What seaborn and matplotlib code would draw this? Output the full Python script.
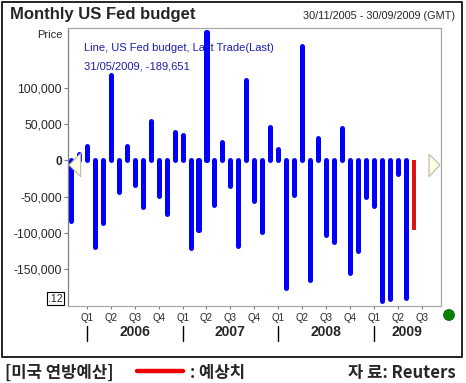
import numpy as np
import pandas as pd
import matplotlib
matplotlib.use('Agg')
import matplotlib.pyplot as plt
import seaborn as sns
from matplotlib.patches import Polygon, Rectangle, Ellipse
from matplotlib.lines import Line2D

# ---------------- data ----------------
months = pd.period_range('2005-11', '2009-05', freq='M').strftime('%Y-%m').tolist()
values = [-83500, 9000, 19500, -119500, -86500, 117500, -43500, 19500, -33500,
          -64500, 53500, -49500, -73500, 39500, 35500, -120500, -96500, 177000,
          -61000, 25500, -35500, -117500, 110500, -56500, -98500, 46500, 16000,
          -176500, -48000, 157500, -165500, 31000, -102500, -112500, 44000,
          -155500, -125500, -51000, -63500, -193500, -191500, -19500, -189651]
forecast_months = ['2009-06']
forecast_values = [-96000]
axis_start, axis_end = '2005-11', '2009-09'
quarter_labels = ['Q1', 'Q2', 'Q3', 'Q4', 'Q1', 'Q2', 'Q3', 'Q4',
                  'Q1', 'Q2', 'Q3', 'Q4', 'Q1', 'Q2', 'Q3']
year_labels = ['2006', '2007', '2008', '2009']
yticks = [-150000, -100000, -50000, 0, 50000, 100000]

# ---------------- style ----------------
sns.set_style('white')
plt.rcParams['font.family'] = ['Liberation Sans', 'DejaVu Sans']
KR = ['Noto Sans CJK KR', 'DejaVu Sans']

W, H = 466, 383
fx = lambda x: x / W
fy = lambda y: 1 - y / H

fig = plt.figure(figsize=(W / 100, H / 100), dpi=100)
L, R, T, B = 68.3, 440.7, 27.7, 306
ax = fig.add_axes([L / W, 1 - B / H, (R - L) / W, (B - T) / H])

axis_months = pd.period_range(axis_start, axis_end, freq='M')
mindex = {p.strftime('%Y-%m'): i for i, p in enumerate(axis_months)}

df = pd.DataFrame({'pos': [mindex[m] for m in months], 'value': values})
dff = pd.DataFrame({'pos': [mindex[m] for m in forecast_months], 'value': forecast_values})

sns.barplot(data=df, x='pos', y='value', native_scale=True, color='#0000ff',
            saturation=1, width=0.01, linewidth=3.6, edgecolor='#0000ff',
            errorbar=None, ax=ax)
for p in ax.patches:
    p.set_joinstyle('round')
    p.set_capstyle('round')
sns.barplot(data=dff, x='pos', y='value', native_scale=True, color='#dc1414',
            saturation=1, width=0.5, linewidth=0, errorbar=None, ax=ax)

ax.set_xlabel('')
ax.set_ylabel('')

xmin, xmax = -0.34, 46.39
# quarter ticks
q_pos = [i for i, p in enumerate(axis_months) if p.month in (1, 4, 7, 10)]
ax.set_xticks(q_pos)
ax.set_xticklabels(quarter_labels[:len(q_pos)])
ax.tick_params(axis='x', length=2.5, width=0.8, color='#808080', pad=2.5,
               labelsize=7, direction='out', bottom=True)

ax.set_yticks(yticks)
ax.set_yticklabels([f'{v:,}' for v in yticks])
ax.tick_params(axis='y', length=3, width=0.8, color='#808080', pad=1.5,
               labelsize=8.7, direction='out', left=True)
for lab in ax.get_yticklabels():
    if lab.get_text() == '0':
        lab.set_fontweight('bold')

for s in ax.spines.values():
    s.set_color('#a8a8a8')
    s.set_linewidth(0.9)
ax.spines['left'].set_color('#808080')

# year separators and labels
y_start = [i for i, p in enumerate(axis_months) if p.month == 1]
y_end = y_start[1:] + [y_start[-1] + 12]
xt = ax.get_xaxis_transform()
for s, e, lab in zip(y_start, y_end, year_labels):
    ax.plot([s, s], [-0.072, -0.124], transform=xt, color='black', lw=1,
            clip_on=False)
    c = (max(s, xmin) + min(e, xmax)) / 2
    ax.text(c, -0.094, lab, transform=xt, ha='center', va='center',
            fontsize=10, fontweight='bold')

# legend text inside plot
ax.text(0.042, 0.927, 'Line, US Fed budget, Last Trade(Last)', transform=ax.transAxes,
        color='#1e1eaa', fontsize=8, va='center', zorder=0.5)
ax.text(0.042, 0.862, f'31/05/2009, {values[-1]:,}', transform=ax.transAxes,
        color='#1e1eaa', fontsize=8, va='center', zorder=0.5)

ax.set_xlim(xmin, xmax)
ax.set_ylim(-200700, 182600)

# header texts
fig.text(fx(10), fy(15), 'Monthly US Fed budget', fontsize=12, fontweight='bold', va='center')
fig.text(fx(455), fy(16), '30/11/2005 - 30/09/2009 (GMT)', fontsize=7.8, ha='right', va='center')
fig.text(fx(63), fy(35), 'Price', fontsize=8, ha='right', va='center')
fig.text(fx(55.5), fy(298.5), '.12', fontsize=7.5, ha='center', va='center',
         bbox=dict(boxstyle='square,pad=0.15', fc='white', ec='black', lw=0.8))

# scroll triangles
fig.add_artist(Polygon([[fx(69), fy(165)], [fx(80.7), fy(153.3)], [fx(80.7), fy(176.7)]],
                       closed=True, transform=fig.transFigure, fc='#ffffe4', ec='#b8b8a8', lw=0.8))
fig.add_artist(Polygon([[fx(440), fy(165)], [fx(429), fy(154.3)], [fx(429), fy(176.7)]],
                       closed=True, transform=fig.transFigure, fc='#ffffe4', ec='#b8b8a8', lw=0.8))
# green dot
fig.add_artist(Ellipse((fx(449), fy(315)), 11 / W, 11 / H, transform=fig.transFigure,
                       fc='#0a820a', ec='#006000', lw=0.5))
# outer frame
fig.add_artist(Rectangle((fx(2), fy(357)), 460 / W, 355 / H, fill=False, ec='black',
                         lw=1.2, transform=fig.transFigure))

# bottom caption
fig.text(fx(5), fy(373), '[미국 연방예산]', family=KR, fontweight='bold', fontsize=12, va='center')
fig.add_artist(Line2D([fx(137), fx(183)], [fy(371), fy(371)], color='#ee0000', lw=3.2,
                      transform=fig.transFigure))
fig.text(fx(190), fy(373), ': 예상치', family=KR, fontweight='bold', fontsize=12, va='center')
fig.text(fx(456), fy(373), '자 료: Reuters', family=KR, fontweight='bold', fontsize=12,
         ha='right', va='center')

fig.savefig('out.png', dpi=100)
